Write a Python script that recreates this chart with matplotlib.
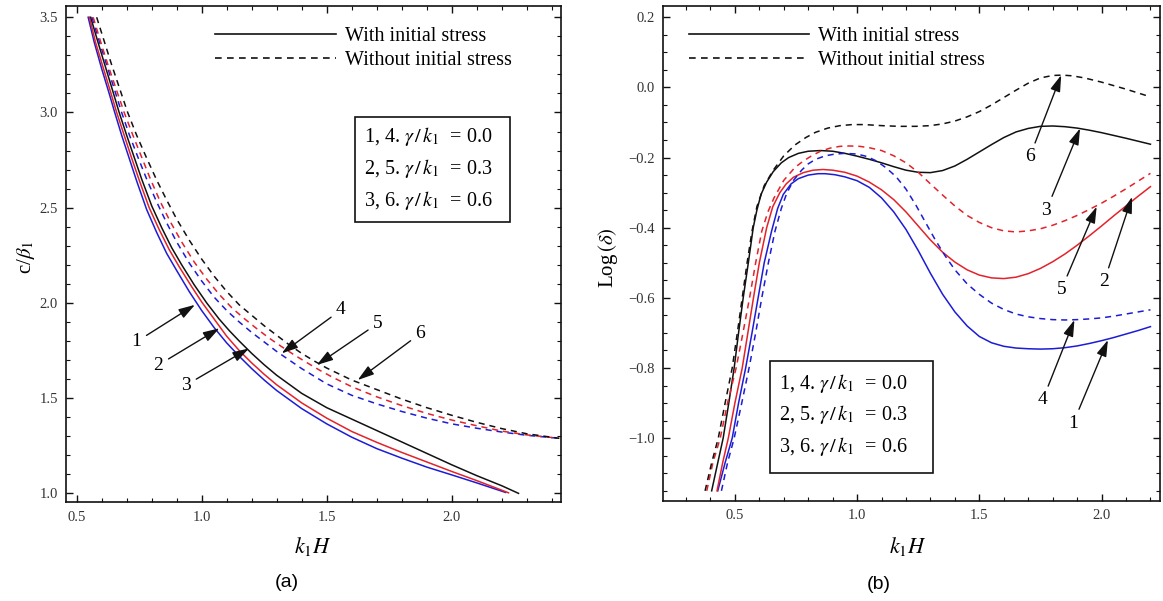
import matplotlib
matplotlib.use("Agg")
import matplotlib.pyplot as plt
from matplotlib.lines import Line2D
from matplotlib.patches import Rectangle
from matplotlib.ticker import MultipleLocator

# ---------------- data: panel (a)  c/beta1 vs k1H ----------------
A1_X = [0.546, 0.57, 0.60, 0.63, 0.65, 0.68, 0.71, 0.74, 0.78, 0.82, 0.86, 0.90, 0.95, 1.00, 1.05, 1.10,
        1.15, 1.20, 1.25, 1.30, 1.40, 1.50, 1.60, 1.70, 1.80, 1.90, 2.00, 2.10, 2.215]
A1_Y = [3.50, 3.37, 3.23, 3.10, 3.01, 2.88, 2.76, 2.64, 2.49, 2.37, 2.26, 2.17, 2.06, 1.96, 1.87, 1.79,
        1.72, 1.655, 1.595, 1.54, 1.445, 1.365, 1.295, 1.235, 1.185, 1.138, 1.097, 1.055, 1.005]
A2_X = [0.551, 0.575, 0.605, 0.635, 0.66, 0.69, 0.72, 0.75, 0.79, 0.83, 0.87, 0.91, 0.96, 1.00, 1.05, 1.10,
        1.15, 1.20, 1.25, 1.30, 1.40, 1.50, 1.60, 1.70, 1.80, 1.90, 2.00, 2.10, 2.227]
A2_Y = [3.50, 3.37, 3.24, 3.11, 3.00, 2.88, 2.76, 2.645, 2.50, 2.385, 2.28, 2.19, 2.085, 2.005, 1.915, 1.825,
        1.75, 1.685, 1.625, 1.57, 1.475, 1.395, 1.325, 1.268, 1.215, 1.165, 1.115, 1.067, 1.003]
A3_X = [0.556, 0.585, 0.615, 0.645, 0.67, 0.70, 0.73, 0.76, 0.80, 0.84, 0.88, 0.92, 0.97, 1.02, 1.07, 1.11,
        1.15, 1.20, 1.25, 1.30, 1.40, 1.50, 1.60, 1.70, 1.80, 1.90, 2.00, 2.10, 2.20, 2.267]
A3_Y = [3.50, 3.37, 3.24, 3.11, 3.00, 2.88, 2.765, 2.65, 2.51, 2.395, 2.29, 2.20, 2.095, 2.00, 1.915, 1.855,
        1.80, 1.735, 1.675, 1.62, 1.525, 1.45, 1.39, 1.33, 1.27, 1.21, 1.15, 1.093, 1.04, 1.00]
A4_X = [0.561, 0.59, 0.62, 0.65, 0.68, 0.71, 0.745, 0.78, 0.82, 0.86, 0.90, 0.95, 1.00, 1.05, 1.10, 1.15,
        1.20, 1.25, 1.30, 1.35, 1.40, 1.45, 1.50, 1.60, 1.70, 1.80, 1.90, 2.00, 2.10, 2.20, 2.30, 2.43]
A4_Y = [3.50, 3.375, 3.25, 3.125, 3.00, 2.885, 2.765, 2.65, 2.53, 2.42, 2.32, 2.21, 2.115, 2.03, 1.96, 1.90,
        1.845, 1.795, 1.745, 1.70, 1.655, 1.615, 1.575, 1.515, 1.47, 1.43, 1.395, 1.365, 1.342, 1.322, 1.305, 1.289]
A5_X = [0.566, 0.595, 0.625, 0.66, 0.69, 0.725, 0.76, 0.795, 0.835, 0.875, 0.92, 0.97, 1.02, 1.07, 1.12, 1.17,
        1.22, 1.27, 1.32, 1.37, 1.42, 1.47, 1.52, 1.60, 1.70, 1.80, 1.90, 2.00, 2.10, 2.20, 2.30, 2.43]
A5_Y = [3.50, 3.375, 3.25, 3.115, 3.00, 2.88, 2.765, 2.65, 2.53, 2.425, 2.32, 2.215, 2.125, 2.045, 1.975, 1.918,
        1.865, 1.815, 1.77, 1.727, 1.687, 1.648, 1.612, 1.56, 1.507, 1.461, 1.42, 1.385, 1.355, 1.327, 1.307, 1.289]
A6_X = [0.58, 0.61, 0.64, 0.672, 0.704, 0.74, 0.78, 0.82, 0.86, 0.90, 0.95, 1.00, 1.05, 1.10, 1.15, 1.20,
        1.25, 1.30, 1.35, 1.40, 1.45, 1.50, 1.60, 1.70, 1.80, 1.90, 2.00, 2.10, 2.20, 2.30, 2.43]
A6_Y = [3.50, 3.375, 3.25, 3.125, 3.00, 2.88, 2.76, 2.645, 2.54, 2.44, 2.33, 2.23, 2.14, 2.06, 1.99, 1.935,
        1.88, 1.83, 1.78, 1.735, 1.695, 1.658, 1.595, 1.545, 1.495, 1.45, 1.41, 1.373, 1.34, 1.313, 1.289]

# ---------------- data: panel (b)  Log(delta) vs k1H ----------------
B1_X = [0.43, 0.46, 0.489, 0.515, 0.544, 0.57, 0.595, 0.62, 0.65, 0.675, 0.698, 0.73, 0.76, 0.80, 0.84, 0.87,
        0.91, 0.95, 1.00, 1.05, 1.10, 1.15, 1.20, 1.25, 1.30, 1.35, 1.40, 1.45, 1.50, 1.55, 1.60, 1.65, 1.70,
        1.75, 1.80, 1.85, 1.90, 1.95, 2.00, 2.05, 2.10, 2.15, 2.20]
B1_Y = [-1.15, -1.07, -1.00, -0.90, -0.80, -0.70, -0.60, -0.50, -0.41, -0.345, -0.305, -0.275, -0.26, -0.25,
        -0.246, -0.246, -0.249, -0.255, -0.266, -0.285, -0.315, -0.355, -0.405, -0.465, -0.53, -0.59, -0.64,
        -0.68, -0.71, -0.728, -0.738, -0.743, -0.745, -0.746, -0.745, -0.742, -0.737, -0.73, -0.722, -0.713,
        -0.703, -0.693, -0.682]
B2_X = [0.427, 0.45, 0.473, 0.50, 0.53, 0.553, 0.576, 0.60, 0.63, 0.655, 0.684, 0.71, 0.74, 0.78, 0.82, 0.86,
        0.90, 0.95, 1.00, 1.05, 1.10, 1.15, 1.20, 1.25, 1.30, 1.35, 1.40, 1.45, 1.50, 1.55, 1.60, 1.65, 1.70,
        1.75, 1.80, 1.85, 1.90, 1.95, 2.00, 2.05, 2.10, 2.15, 2.20]
B2_Y = [-1.15, -1.07, -1.00, -0.90, -0.80, -0.70, -0.60, -0.50, -0.40, -0.34, -0.30, -0.275, -0.256, -0.243,
        -0.236, -0.234, -0.236, -0.242, -0.253, -0.27, -0.292, -0.32, -0.355, -0.395, -0.435, -0.47, -0.498,
        -0.52, -0.535, -0.543, -0.545, -0.541, -0.531, -0.516, -0.497, -0.475, -0.45, -0.423, -0.395, -0.366,
        -0.338, -0.31, -0.283]
B3_X = [0.405, 0.43, 0.452, 0.475, 0.497, 0.515, 0.534, 0.555, 0.575, 0.59, 0.607, 0.63, 0.657, 0.69, 0.72,
        0.76, 0.80, 0.85, 0.90, 0.95, 1.00, 1.05, 1.10, 1.15, 1.20, 1.25, 1.30, 1.35, 1.40, 1.45, 1.50, 1.55,
        1.60, 1.65, 1.70, 1.75, 1.80, 1.85, 1.90, 1.95, 2.00, 2.10, 2.20]
B3_Y = [-1.15, -1.07, -1.00, -0.90, -0.80, -0.70, -0.60, -0.50, -0.40, -0.35, -0.305, -0.27, -0.24, -0.215,
        -0.20, -0.188, -0.182, -0.18, -0.182, -0.188, -0.196, -0.205, -0.215, -0.226, -0.236, -0.242, -0.243,
        -0.237, -0.224, -0.205, -0.184, -0.163, -0.143, -0.127, -0.117, -0.111, -0.11, -0.112, -0.116, -0.122,
        -0.129, -0.145, -0.162]
B4_X = [0.445, 0.47, 0.497, 0.528, 0.558, 0.585, 0.61, 0.637, 0.664, 0.69, 0.712, 0.74, 0.773, 0.80, 0.83,
        0.87, 0.91, 0.95, 1.00, 1.04, 1.08, 1.12, 1.16, 1.20, 1.24, 1.28, 1.32, 1.36, 1.40, 1.45, 1.50, 1.55,
        1.60, 1.65, 1.70, 1.75, 1.80, 1.85, 1.90, 1.95, 2.00, 2.05, 2.10, 2.15, 2.20]
B4_Y = [-1.15, -1.07, -1.00, -0.90, -0.80, -0.70, -0.60, -0.50, -0.41, -0.345, -0.302, -0.265, -0.236, -0.218,
        -0.205, -0.195, -0.19, -0.188, -0.19, -0.197, -0.21, -0.23, -0.255, -0.29, -0.335, -0.385, -0.435,
        -0.48, -0.52, -0.56, -0.59, -0.615, -0.633, -0.646, -0.654, -0.659, -0.662, -0.663, -0.662, -0.66,
        -0.657, -0.652, -0.646, -0.64, -0.634]
B5_X = [0.385, 0.41, 0.44, 0.47, 0.505, 0.533, 0.56, 0.585, 0.61, 0.635, 0.66, 0.70, 0.746, 0.78, 0.814, 0.85,
        0.89, 0.93, 0.97, 1.01, 1.05, 1.10, 1.15, 1.20, 1.25, 1.30, 1.35, 1.40, 1.45, 1.50, 1.55, 1.60, 1.65,
        1.70, 1.75, 1.80, 1.85, 1.90, 1.95, 2.00, 2.05, 2.10, 2.15, 2.20]
B5_Y = [-1.15, -1.07, -1.00, -0.90, -0.80, -0.70, -0.60, -0.50, -0.41, -0.355, -0.315, -0.265, -0.228, -0.21,
        -0.195, -0.182, -0.173, -0.168, -0.167, -0.168, -0.172, -0.18, -0.195, -0.215, -0.242, -0.275, -0.307,
        -0.338, -0.365, -0.385, -0.40, -0.409, -0.412, -0.409, -0.403, -0.393, -0.38, -0.365, -0.348, -0.33,
        -0.31, -0.289, -0.267, -0.245]
B6_X = [0.378, 0.405, 0.432, 0.46, 0.489, 0.51, 0.53, 0.55, 0.57, 0.59, 0.62, 0.657, 0.70, 0.746, 0.79, 0.83,
        0.88, 0.93, 0.98, 1.03, 1.10, 1.17, 1.24, 1.30, 1.35, 1.40, 1.45, 1.50, 1.55, 1.60, 1.65, 1.70, 1.75,
        1.80, 1.84, 1.88, 1.93, 2.00, 2.10, 2.20]
B6_Y = [-1.15, -1.07, -1.00, -0.90, -0.80, -0.70, -0.60, -0.50, -0.41, -0.34, -0.28, -0.236, -0.195, -0.164,
        -0.143, -0.128, -0.116, -0.109, -0.106, -0.106, -0.109, -0.111, -0.111, -0.109, -0.104, -0.096, -0.084,
        -0.069, -0.05, -0.029, -0.008, 0.012, 0.027, 0.034, 0.035, 0.033, 0.027, 0.015, -0.005, -0.027]

# ---------------- text / ticks ----------------
LEGEND_LABELS = ["With initial stress", "Without initial stress"]
BOX_LINES = [r"1, 4. $\gamma\,/\,k_1$  = 0.0", r"2, 5. $\gamma\,/\,k_1$  = 0.3", r"3, 6. $\gamma\,/\,k_1$  = 0.6"]
CURVE_NUMBERS = ["1", "2", "3", "4", "5", "6"]
A_XTICKS = [0.5, 1.0, 1.5, 2.0]
A_XTICKLABELS = ["0.5", "1.0", "1.5", "2.0"]
A_YTICKS = [1.0, 1.5, 2.0, 2.5, 3.0, 3.5]
A_YTICKLABELS = ["1.0", "1.5", "2.0", "2.5", "3.0", "3.5"]
B_XTICKS = [0.5, 1.0, 1.5, 2.0]
B_XTICKLABELS = ["0.5", "1.0", "1.5", "2.0"]
B_YTICKS = [-1.0, -0.8, -0.6, -0.4, -0.2, 0.0, 0.2]
B_YTICKLABELS = ["\u22121.0", "\u22120.8", "\u22120.6", "\u22120.4", "\u22120.2", "0.0", "0.2"]

# annotation layout (label position, arrow tip) in data coordinates
A_LABEL_POS = [(0.739, 1.796), (0.827, 1.674), (0.938, 1.569), (1.557, 1.963), (1.705, 1.893), (1.875, 1.84)]
A_TIP_POS = [(0.973, 1.99), (1.071, 1.867), (1.189, 1.761), (1.32, 1.735), (1.46, 1.674), (1.624, 1.595)]
B_LABEL_POS = [(1.884, -0.957), (2.01, -0.554), (1.774, -0.35), (1.759, -0.891), (1.835, -0.577), (1.706, -0.198)]
B_TIP_POS = [(2.026, -0.72), (2.125, -0.312), (1.912, -0.117), (1.889, -0.663), (1.98, -0.34), (1.835, 0.035)]

BLUE = "#1c1cd6"
RED = "#e3222a"
BLACK = "#111111"
DASH = (0, (4.0, 3.2))

plt.rcParams["font.family"] = ["Liberation Serif", "DejaVu Serif"]
plt.rcParams["mathtext.fontset"] = "stix"

fig = plt.figure(figsize=(11.63, 6.01), dpi=100)
axa = fig.add_axes([0.0571, 0.1642, 0.4253, 0.8258])
axb = fig.add_axes([0.5703, 0.1664, 0.4271, 0.8236])

LW = 1.1
for ax, series in [
    (axa, [(A1_X, A1_Y, BLUE, "-"), (A2_X, A2_Y, RED, "-"), (A3_X, A3_Y, BLACK, "-"),
           (A4_X, A4_Y, BLUE, DASH), (A5_X, A5_Y, RED, DASH), (A6_X, A6_Y, BLACK, DASH)]),
    (axb, [(B1_X, B1_Y, BLUE, "-"), (B2_X, B2_Y, RED, "-"), (B3_X, B3_Y, BLACK, "-"),
           (B4_X, B4_Y, BLUE, DASH), (B5_X, B5_Y, RED, DASH), (B6_X, B6_Y, BLACK, DASH)]),
]:
    for xs, ys, c, ls in series:
        ax.plot(xs, ys, color=c, lw=LW, linestyle=ls, solid_joinstyle="round", dash_joinstyle="round")

axa.set_xlim(0.459, 2.437)
axa.set_ylim(0.953, 3.559)
axb.set_xlim(0.207, 2.239)
axb.set_ylim(-1.179, 0.232)

axa.set_xticks(A_XTICKS, A_XTICKLABELS)
axa.set_yticks(A_YTICKS, A_YTICKLABELS)
axb.set_xticks(B_XTICKS, B_XTICKLABELS)
axb.set_yticks(B_YTICKS, B_YTICKLABELS)
axa.xaxis.set_minor_locator(MultipleLocator(0.1))
axa.yaxis.set_minor_locator(MultipleLocator(0.1))
axb.xaxis.set_minor_locator(MultipleLocator(0.1))
axb.yaxis.set_minor_locator(MultipleLocator(0.05))

for ax in (axa, axb):
    for s in ax.spines.values():
        s.set_linewidth(1.2)
        s.set_color("#111111")
    ax.tick_params(which="both", direction="in", top=True, right=True, color="#111111")
    ax.tick_params(which="major", length=5, width=1.0, labelsize=10.5, pad=6, labelcolor="#333333")
    ax.tick_params(which="minor", length=3, width=0.8)

# legend (line styles)
handles = [Line2D([], [], color=BLACK, lw=1.2), Line2D([], [], color=BLACK, lw=1.2, linestyle=DASH)]
for ax, x0 in [(axa, 0.300), (axb, 0.051)]:
    ax.legend(handles, LEGEND_LABELS, loc="upper left", bbox_to_anchor=(x0, 0.958), frameon=False,
              fontsize=14.5, handlelength=6.0, handletextpad=0.45, labelspacing=0.25, borderpad=0,
              borderaxespad=0)

# parameter boxes
for ax, (bx0, by0, bx1, by1), tx, tys in [
    (axa, (0.5835, 0.5654, 0.8977, 0.7757), 0.601, [0.7366, 0.673, 0.609]),
    (axb, (0.214, 0.056, 0.543, 0.283), 0.234, [0.238, 0.174, 0.1097]),
]:
    ax.add_patch(Rectangle((bx0, by0), bx1 - bx0, by1 - by0, transform=ax.transAxes,
                           fill=False, lw=1.2, edgecolor="#111111"))
    for line, ty in zip(BOX_LINES, tys):
        ax.text(tx, ty, line, transform=ax.transAxes, fontsize=14.5, va="center", ha="left")

# curve number annotations
arrow = dict(arrowstyle="-|>,head_length=0.9,head_width=0.28", color="#111111", lw=1.0,
             mutation_scale=11, shrinkA=2, shrinkB=0)
for ax, labs, tips in [(axa, A_LABEL_POS, A_TIP_POS), (axb, B_LABEL_POS, B_TIP_POS)]:
    for num, lp, tp in zip(CURVE_NUMBERS, labs, tips):
        ax.annotate(num, xy=tp, xytext=lp, fontsize=14, ha="center", va="center",
                    arrowprops=arrow)

# axis labels
fig.text(0.2691, 0.0899, r"$k_1H$", fontsize=16, ha="center", va="center")
fig.text(0.7807, 0.0899, r"$k_1H$", fontsize=16, ha="center", va="center")
fig.text(0.0224, 0.572, r"c/$\beta_1$", fontsize=15, rotation=90, ha="center", va="center")
fig.text(0.5228, 0.572, r"Log$\,(\delta)$", fontsize=15, rotation=90, ha="center", va="center")
fig.text(0.2468, 0.030, "(a)", fontsize=14, ha="center", va="center", family="Liberation Sans")
fig.text(0.7554, 0.027, "(b)", fontsize=14, ha="center", va="center", family="Liberation Sans")

fig.savefig("out.png", dpi=100, facecolor="white")
